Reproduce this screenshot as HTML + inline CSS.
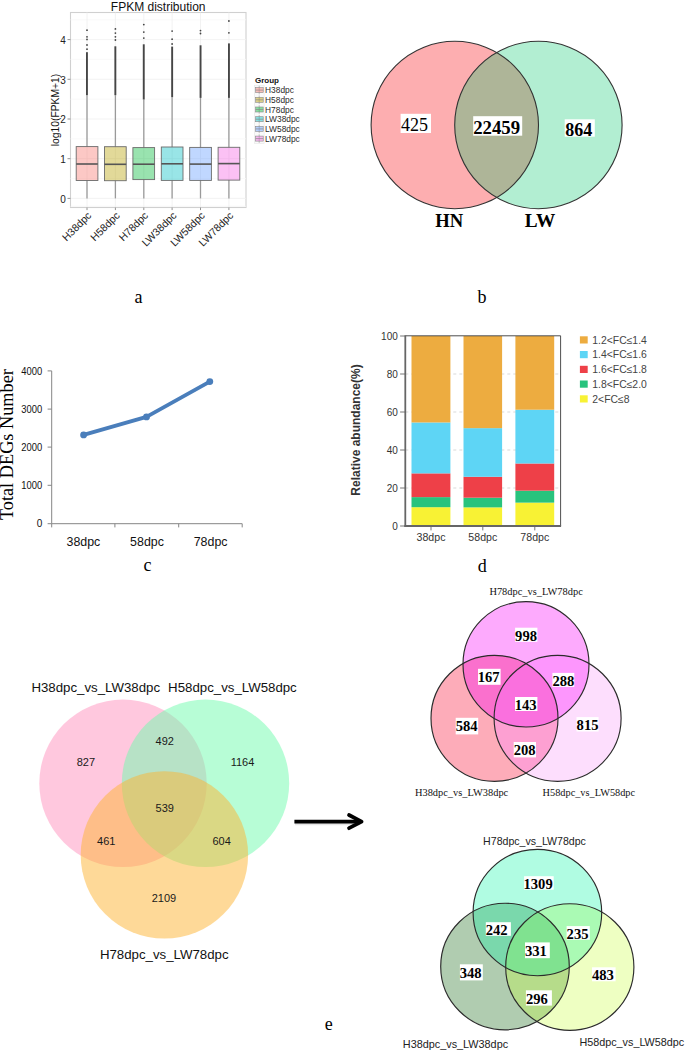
<!DOCTYPE html>
<html><head><meta charset="utf-8"><title>Figure</title>
<style>
html,body{margin:0;padding:0;background:#fff;}
body{width:685px;height:1051px;overflow:hidden;font-family:"Liberation Sans",sans-serif;}
svg{display:block;}
</style></head>
<body>
<svg width="685" height="1051" viewBox="0 0 685 1051">
<rect width="685" height="1051" fill="#fff"/>
<rect x="70.5" y="12.5" width="175.5" height="195.0" fill="#fff" stroke="#d0d0d0" stroke-width="1.1"/>
<line x1="70.5" x2="246.0" y1="198.4" y2="198.4" stroke="#f0f0f0" stroke-width="0.8"/>
<line x1="70.5" x2="246.0" y1="178.6" y2="178.6" stroke="#f7f7f7" stroke-width="0.8"/>
<line x1="70.5" x2="246.0" y1="158.7" y2="158.7" stroke="#f0f0f0" stroke-width="0.8"/>
<line x1="70.5" x2="246.0" y1="138.8" y2="138.8" stroke="#f7f7f7" stroke-width="0.8"/>
<line x1="70.5" x2="246.0" y1="119.0" y2="119.0" stroke="#f0f0f0" stroke-width="0.8"/>
<line x1="70.5" x2="246.0" y1="99.2" y2="99.2" stroke="#f7f7f7" stroke-width="0.8"/>
<line x1="70.5" x2="246.0" y1="79.3" y2="79.3" stroke="#f0f0f0" stroke-width="0.8"/>
<line x1="70.5" x2="246.0" y1="59.4" y2="59.4" stroke="#f7f7f7" stroke-width="0.8"/>
<line x1="70.5" x2="246.0" y1="39.6" y2="39.6" stroke="#f0f0f0" stroke-width="0.8"/>
<line x1="70.5" x2="246.0" y1="19.8" y2="19.8" stroke="#f7f7f7" stroke-width="0.8"/>
<line x1="70.5" x2="246.0" y1="206.3" y2="206.3" stroke="#f6f6f6" stroke-width="0.8"/>
<line x1="87.0" x2="87.0" y1="12.5" y2="207.5" stroke="#efefef" stroke-width="0.8"/>
<line x1="115.4" x2="115.4" y1="12.5" y2="207.5" stroke="#efefef" stroke-width="0.8"/>
<line x1="143.8" x2="143.8" y1="12.5" y2="207.5" stroke="#efefef" stroke-width="0.8"/>
<line x1="172.1" x2="172.1" y1="12.5" y2="207.5" stroke="#efefef" stroke-width="0.8"/>
<line x1="200.5" x2="200.5" y1="12.5" y2="207.5" stroke="#efefef" stroke-width="0.8"/>
<line x1="228.9" x2="228.9" y1="12.5" y2="207.5" stroke="#efefef" stroke-width="0.8"/>
<line x1="87.0" x2="87.0" y1="95.2" y2="146.6" stroke="#9a9a9a" stroke-width="1.3"/>
<line x1="87.0" x2="87.0" y1="180.5" y2="198.4" stroke="#9a9a9a" stroke-width="1.3"/>
<rect x="86.0" y="52.2" width="1.9" height="43.0" fill="#464646"/>
<circle cx="87.0" cy="30.2" r="0.9" fill="#444"/>
<circle cx="87.0" cy="36.8" r="0.9" fill="#444"/>
<circle cx="87.0" cy="39.4" r="0.9" fill="#444"/>
<circle cx="87.0" cy="45" r="0.9" fill="#444"/>
<circle cx="87.0" cy="49.2" r="0.9" fill="#444"/>
<rect x="76.2" y="146.6" width="21.7" height="33.9" fill="#F8766D" fill-opacity="0.4" stroke="#6b6b6b" stroke-width="0.9"/>
<line x1="76.2" x2="97.8" y1="164.0" y2="164.0" stroke="#555" stroke-width="1.6"/>
<line x1="115.4" x2="115.4" y1="95.2" y2="146.7" stroke="#9a9a9a" stroke-width="1.3"/>
<line x1="115.4" x2="115.4" y1="180.7" y2="198.4" stroke="#9a9a9a" stroke-width="1.3"/>
<rect x="114.4" y="46.3" width="1.9" height="48.9" fill="#464646"/>
<circle cx="115.4" cy="28.9" r="0.9" fill="#444"/>
<circle cx="115.4" cy="33.1" r="0.9" fill="#444"/>
<circle cx="115.4" cy="36.8" r="0.9" fill="#444"/>
<circle cx="115.4" cy="40" r="0.9" fill="#444"/>
<rect x="104.5" y="146.7" width="21.7" height="34.0" fill="#B79F00" fill-opacity="0.4" stroke="#6b6b6b" stroke-width="0.9"/>
<line x1="104.5" x2="126.2" y1="164.3" y2="164.3" stroke="#555" stroke-width="1.6"/>
<line x1="143.8" x2="143.8" y1="99.5" y2="147.6" stroke="#9a9a9a" stroke-width="1.3"/>
<line x1="143.8" x2="143.8" y1="179.6" y2="198.4" stroke="#9a9a9a" stroke-width="1.3"/>
<rect x="142.8" y="44.3" width="1.9" height="55.2" fill="#464646"/>
<circle cx="143.8" cy="24.6" r="0.9" fill="#444"/>
<circle cx="143.8" cy="32.1" r="0.9" fill="#444"/>
<circle cx="143.8" cy="38.1" r="0.9" fill="#444"/>
<rect x="132.9" y="147.6" width="21.7" height="32.0" fill="#00BA38" fill-opacity="0.4" stroke="#6b6b6b" stroke-width="0.9"/>
<line x1="132.9" x2="154.6" y1="164.2" y2="164.2" stroke="#555" stroke-width="1.6"/>
<line x1="172.1" x2="172.1" y1="97.2" y2="147.0" stroke="#9a9a9a" stroke-width="1.3"/>
<line x1="172.1" x2="172.1" y1="180.4" y2="198.4" stroke="#9a9a9a" stroke-width="1.3"/>
<rect x="171.2" y="46.6" width="1.9" height="50.6" fill="#464646"/>
<circle cx="172.1" cy="31.1" r="0.9" fill="#444"/>
<circle cx="172.1" cy="39.2" r="0.9" fill="#444"/>
<circle cx="172.1" cy="44" r="0.9" fill="#444"/>
<rect x="161.3" y="147.0" width="21.7" height="33.4" fill="#00BFC4" fill-opacity="0.4" stroke="#6b6b6b" stroke-width="0.9"/>
<line x1="161.3" x2="183.0" y1="163.8" y2="163.8" stroke="#555" stroke-width="1.6"/>
<line x1="200.5" x2="200.5" y1="97.9" y2="147.4" stroke="#9a9a9a" stroke-width="1.3"/>
<line x1="200.5" x2="200.5" y1="180.4" y2="198.4" stroke="#9a9a9a" stroke-width="1.3"/>
<rect x="199.6" y="45.3" width="1.9" height="52.6" fill="#464646"/>
<circle cx="200.5" cy="30.6" r="0.9" fill="#444"/>
<circle cx="200.5" cy="33.5" r="0.9" fill="#444"/>
<rect x="189.7" y="147.4" width="21.7" height="33.0" fill="#619CFF" fill-opacity="0.4" stroke="#6b6b6b" stroke-width="0.9"/>
<line x1="189.7" x2="211.4" y1="164.1" y2="164.1" stroke="#555" stroke-width="1.6"/>
<line x1="228.9" x2="228.9" y1="97.9" y2="147.3" stroke="#9a9a9a" stroke-width="1.3"/>
<line x1="228.9" x2="228.9" y1="180.1" y2="198.4" stroke="#9a9a9a" stroke-width="1.3"/>
<rect x="228.0" y="43.4" width="1.9" height="54.5" fill="#464646"/>
<circle cx="228.9" cy="21" r="0.9" fill="#444"/>
<circle cx="228.9" cy="32.8" r="0.9" fill="#444"/>
<rect x="218.1" y="147.3" width="21.7" height="32.8" fill="#F564E3" fill-opacity="0.4" stroke="#6b6b6b" stroke-width="0.9"/>
<line x1="218.1" x2="239.8" y1="163.6" y2="163.6" stroke="#555" stroke-width="1.6"/>
<line x1="67.5" x2="70.5" y1="198.4" y2="198.4" stroke="#777" stroke-width="0.8"/>
<text x="65.8" y="202.70000000000002" font-family='"Liberation Sans", sans-serif' font-size="10" font-weight="400" text-anchor="end" fill="#222" >0</text>
<line x1="67.5" x2="70.5" y1="158.7" y2="158.7" stroke="#777" stroke-width="0.8"/>
<text x="65.8" y="163.0" font-family='"Liberation Sans", sans-serif' font-size="10" font-weight="400" text-anchor="end" fill="#222" >1</text>
<line x1="67.5" x2="70.5" y1="119.0" y2="119.0" stroke="#777" stroke-width="0.8"/>
<text x="65.8" y="123.3" font-family='"Liberation Sans", sans-serif' font-size="10" font-weight="400" text-anchor="end" fill="#222" >2</text>
<line x1="67.5" x2="70.5" y1="79.3" y2="79.3" stroke="#777" stroke-width="0.8"/>
<text x="65.8" y="83.6" font-family='"Liberation Sans", sans-serif' font-size="10" font-weight="400" text-anchor="end" fill="#222" >3</text>
<line x1="67.5" x2="70.5" y1="39.6" y2="39.6" stroke="#777" stroke-width="0.8"/>
<text x="65.8" y="43.89999999999999" font-family='"Liberation Sans", sans-serif' font-size="10" font-weight="400" text-anchor="end" fill="#222" >4</text>
<line x1="87.0" x2="87.0" y1="207.5" y2="210.1" stroke="#777" stroke-width="0.8"/>
<line x1="115.4" x2="115.4" y1="207.5" y2="210.1" stroke="#777" stroke-width="0.8"/>
<line x1="143.8" x2="143.8" y1="207.5" y2="210.1" stroke="#777" stroke-width="0.8"/>
<line x1="172.1" x2="172.1" y1="207.5" y2="210.1" stroke="#777" stroke-width="0.8"/>
<line x1="200.5" x2="200.5" y1="207.5" y2="210.1" stroke="#777" stroke-width="0.8"/>
<line x1="228.9" x2="228.9" y1="207.5" y2="210.1" stroke="#777" stroke-width="0.8"/>
<text x="92.0" y="216.2" font-family='"Liberation Sans", sans-serif' font-size="10.5" font-weight="400" text-anchor="end" fill="#222" transform="rotate(-45 92.0 216.2)">H38dpc</text>
<text x="120.38" y="216.2" font-family='"Liberation Sans", sans-serif' font-size="10.5" font-weight="400" text-anchor="end" fill="#222" transform="rotate(-45 120.4 216.2)">H58dpc</text>
<text x="148.76" y="216.2" font-family='"Liberation Sans", sans-serif' font-size="10.5" font-weight="400" text-anchor="end" fill="#222" transform="rotate(-45 148.8 216.2)">H78dpc</text>
<text x="177.14" y="216.2" font-family='"Liberation Sans", sans-serif' font-size="10.5" font-weight="400" text-anchor="end" fill="#222" transform="rotate(-45 177.1 216.2)">LW38dpc</text>
<text x="205.51999999999998" y="216.2" font-family='"Liberation Sans", sans-serif' font-size="10.5" font-weight="400" text-anchor="end" fill="#222" transform="rotate(-45 205.5 216.2)">LW58dpc</text>
<text x="233.9" y="216.2" font-family='"Liberation Sans", sans-serif' font-size="10.5" font-weight="400" text-anchor="end" fill="#222" transform="rotate(-45 233.9 216.2)">LW78dpc</text>
<text x="158.2" y="10.5" font-family='"Liberation Sans", sans-serif' font-size="12" font-weight="400" text-anchor="middle" fill="#111" >FPKM distribution</text>
<text x="59.0" y="110.0" font-family='"Liberation Sans", sans-serif' font-size="10.8" font-weight="400" text-anchor="middle" fill="#111" transform="rotate(-90 59.0 110.0)" textLength="72.5" lengthAdjust="spacingAndGlyphs">log10(FPKM+1)</text>
<text x="255" y="83.1" font-family='"Liberation Sans", sans-serif' font-size="8" font-weight="700" text-anchor="start" fill="#111" >Group</text>
<rect x="254.3" y="85.2" width="9.8" height="58.2" fill="#fafafa" stroke="#e6e6e6" stroke-width="0.6"/>
<line x1="259.2" x2="259.2" y1="85.8" y2="94.39999999999999" stroke="#999" stroke-width="0.6"/>
<rect x="255.6" y="87.6" width="7.6" height="5.0" fill="#F8766D" fill-opacity="0.45" stroke="#8a8a8a" stroke-width="0.6"/>
<line x1="255.6" x2="263.2" y1="90.1" y2="90.1" stroke="#888" stroke-width="0.7"/>
<text x="265.1" y="93.1" font-family='"Liberation Sans", sans-serif' font-size="8.35" font-weight="400" text-anchor="start" fill="#2a2a2a" >H38dpc</text>
<line x1="259.2" x2="259.2" y1="95.5" y2="104.1" stroke="#999" stroke-width="0.6"/>
<rect x="255.6" y="97.3" width="7.6" height="5.0" fill="#B79F00" fill-opacity="0.45" stroke="#8a8a8a" stroke-width="0.6"/>
<line x1="255.6" x2="263.2" y1="99.8" y2="99.8" stroke="#888" stroke-width="0.7"/>
<text x="265.1" y="102.8" font-family='"Liberation Sans", sans-serif' font-size="8.35" font-weight="400" text-anchor="start" fill="#2a2a2a" >H58dpc</text>
<line x1="259.2" x2="259.2" y1="105.2" y2="113.8" stroke="#999" stroke-width="0.6"/>
<rect x="255.6" y="107.0" width="7.6" height="5.0" fill="#00BA38" fill-opacity="0.45" stroke="#8a8a8a" stroke-width="0.6"/>
<line x1="255.6" x2="263.2" y1="109.5" y2="109.5" stroke="#888" stroke-width="0.7"/>
<text x="265.1" y="112.5" font-family='"Liberation Sans", sans-serif' font-size="8.35" font-weight="400" text-anchor="start" fill="#2a2a2a" >H78dpc</text>
<line x1="259.2" x2="259.2" y1="114.9" y2="123.5" stroke="#999" stroke-width="0.6"/>
<rect x="255.6" y="116.7" width="7.6" height="5.0" fill="#00BFC4" fill-opacity="0.45" stroke="#8a8a8a" stroke-width="0.6"/>
<line x1="255.6" x2="263.2" y1="119.2" y2="119.2" stroke="#888" stroke-width="0.7"/>
<text x="265.1" y="122.2" font-family='"Liberation Sans", sans-serif' font-size="8.35" font-weight="400" text-anchor="start" fill="#2a2a2a" >LW38dpc</text>
<line x1="259.2" x2="259.2" y1="124.60000000000001" y2="133.20000000000002" stroke="#999" stroke-width="0.6"/>
<rect x="255.6" y="126.4" width="7.6" height="5.0" fill="#619CFF" fill-opacity="0.45" stroke="#8a8a8a" stroke-width="0.6"/>
<line x1="255.6" x2="263.2" y1="128.9" y2="128.9" stroke="#888" stroke-width="0.7"/>
<text x="265.1" y="131.9" font-family='"Liberation Sans", sans-serif' font-size="8.35" font-weight="400" text-anchor="start" fill="#2a2a2a" >LW58dpc</text>
<line x1="259.2" x2="259.2" y1="134.29999999999998" y2="142.9" stroke="#999" stroke-width="0.6"/>
<rect x="255.6" y="136.1" width="7.6" height="5.0" fill="#F564E3" fill-opacity="0.45" stroke="#8a8a8a" stroke-width="0.6"/>
<line x1="255.6" x2="263.2" y1="138.6" y2="138.6" stroke="#888" stroke-width="0.7"/>
<text x="265.1" y="141.6" font-family='"Liberation Sans", sans-serif' font-size="8.35" font-weight="400" text-anchor="start" fill="#2a2a2a" >LW78dpc</text>
<text x="138.6" y="302.7" font-family='"Liberation Serif", serif' font-size="18" font-weight="400" text-anchor="middle" fill="#000" >a</text>
<clipPath id="bc1"><circle cx="454.8" cy="125.0" r="83.7"/></clipPath>
<circle cx="454.8" cy="125.0" r="83.7" fill="#FDAEB0"/>
<circle cx="538.4" cy="125.0" r="83.7" fill="#B2EED2"/>
<circle cx="538.4" cy="125.0" r="83.7" fill="#AEB598" clip-path="url(#bc1)"/>
<circle cx="454.8" cy="125.0" r="83.7" fill="none" stroke="#333" stroke-width="1.1"/>
<circle cx="538.4" cy="125.0" r="83.7" fill="none" stroke="#333" stroke-width="1.1"/>
<rect x="400.6" y="113.8" width="30.4" height="19.2" fill="#fff"/>
<text x="401.0" y="130.9" font-family='"Liberation Serif", serif' font-size="18" font-weight="400" text-anchor="start" fill="#000" >425</text>
<rect x="473.2" y="116.2" width="49" height="19.5" fill="#fff"/>
<text x="473.2" y="133.6" font-family='"Liberation Serif", serif' font-size="18.8" font-weight="700" text-anchor="start" fill="#000" >22459</text>
<rect x="564.7" y="119.3" width="30.1" height="17.4" fill="#fff"/>
<text x="565.2" y="136.1" font-family='"Liberation Serif", serif' font-size="18" font-weight="700" text-anchor="start" fill="#000" >864</text>
<text x="449.3" y="226.7" font-family='"Liberation Serif", serif' font-size="18.6" font-weight="700" text-anchor="middle" fill="#000" >HN</text>
<text x="540.0" y="226.7" font-family='"Liberation Serif", serif' font-size="19.3" font-weight="700" text-anchor="middle" fill="#000" >LW</text>
<text x="482.0" y="302.7" font-family='"Liberation Serif", serif' font-size="18" font-weight="400" text-anchor="middle" fill="#000" >b</text>
<line x1="51.7" x2="51.7" y1="370.9" y2="523.7" stroke="#868686" stroke-width="1"/>
<line x1="51.7" x2="242.2" y1="523.7" y2="523.7" stroke="#868686" stroke-width="1"/>
<line x1="47.6" x2="51.7" y1="523.7" y2="523.7" stroke="#868686" stroke-width="1"/>
<text x="42.2" y="527.3000000000001" font-family='"Liberation Sans", sans-serif' font-size="10.0" font-weight="400" text-anchor="end" fill="#111" >0</text>
<line x1="47.6" x2="51.7" y1="485.3" y2="485.3" stroke="#868686" stroke-width="1"/>
<text x="42.2" y="488.90000000000003" font-family='"Liberation Sans", sans-serif' font-size="10.0" font-weight="400" text-anchor="end" fill="#111"  textLength="20.9" lengthAdjust="spacingAndGlyphs">1000</text>
<line x1="47.6" x2="51.7" y1="447.1" y2="447.1" stroke="#868686" stroke-width="1"/>
<text x="42.2" y="450.70000000000005" font-family='"Liberation Sans", sans-serif' font-size="10.0" font-weight="400" text-anchor="end" fill="#111"  textLength="20.9" lengthAdjust="spacingAndGlyphs">2000</text>
<line x1="47.6" x2="51.7" y1="409.1" y2="409.1" stroke="#868686" stroke-width="1"/>
<text x="42.2" y="412.70000000000005" font-family='"Liberation Sans", sans-serif' font-size="10.0" font-weight="400" text-anchor="end" fill="#111"  textLength="20.9" lengthAdjust="spacingAndGlyphs">3000</text>
<line x1="47.6" x2="51.7" y1="370.9" y2="370.9" stroke="#868686" stroke-width="1"/>
<text x="42.2" y="374.5" font-family='"Liberation Sans", sans-serif' font-size="10.0" font-weight="400" text-anchor="end" fill="#111"  textLength="20.9" lengthAdjust="spacingAndGlyphs">4000</text>
<line x1="51.7" x2="51.7" y1="523.7" y2="527.4" stroke="#868686" stroke-width="1"/>
<line x1="114.9" x2="114.9" y1="523.7" y2="527.4" stroke="#868686" stroke-width="1"/>
<line x1="178.7" x2="178.7" y1="523.7" y2="527.4" stroke="#868686" stroke-width="1"/>
<line x1="242.2" x2="242.2" y1="523.7" y2="527.4" stroke="#868686" stroke-width="1"/>
<polyline points="83.6,434.9 146.5,416.9 209.8,381.6" fill="none" stroke="#4A7EBB" stroke-width="3.9" stroke-linejoin="round" stroke-linecap="round"/>
<circle cx="83.6" cy="434.9" r="3.4" fill="#4A7EBB"/>
<circle cx="146.5" cy="416.9" r="3.4" fill="#4A7EBB"/>
<circle cx="209.8" cy="381.6" r="3.4" fill="#4A7EBB"/>
<text x="83.4" y="545.7" font-family='"Liberation Sans", sans-serif' font-size="12.4" font-weight="400" text-anchor="middle" fill="#111" >38dpc</text>
<text x="147.0" y="545.7" font-family='"Liberation Sans", sans-serif' font-size="12.4" font-weight="400" text-anchor="middle" fill="#111" >58dpc</text>
<text x="210.6" y="545.7" font-family='"Liberation Sans", sans-serif' font-size="12.4" font-weight="400" text-anchor="middle" fill="#111" >78dpc</text>
<text x="13.4" y="444.6" font-family='"Liberation Serif", serif' font-size="18.3" font-weight="400" text-anchor="middle" fill="#000" transform="rotate(-90 13.4 444.6)">Total DEGs Number</text>
<text x="147.6" y="571.4" font-family='"Liberation Serif", serif' font-size="18" font-weight="400" text-anchor="middle" fill="#000" >c</text>
<line x1="405.3" x2="560.6" y1="488.0" y2="488.0" stroke="#cfcfcf" stroke-width="0.8" stroke-dasharray="3,3"/>
<line x1="405.3" x2="560.6" y1="450.0" y2="450.0" stroke="#cfcfcf" stroke-width="0.8" stroke-dasharray="3,3"/>
<line x1="405.3" x2="560.6" y1="412.0" y2="412.0" stroke="#cfcfcf" stroke-width="0.8" stroke-dasharray="3,3"/>
<line x1="405.3" x2="560.6" y1="374.0" y2="374.0" stroke="#cfcfcf" stroke-width="0.8" stroke-dasharray="3,3"/>
<rect x="411.5" y="507.19" width="38.9" height="18.81" fill="#F8F234"/>
<rect x="411.5" y="497.12" width="38.9" height="10.07" fill="#28C37D"/>
<rect x="411.5" y="473.37" width="38.9" height="23.75" fill="#EE4048"/>
<rect x="411.5" y="422.45" width="38.9" height="50.92" fill="#5ED5F5"/>
<rect x="411.5" y="336.00" width="38.9" height="86.45" fill="#EDAC40"/>
<rect x="463.5" y="507.38" width="38.6" height="18.62" fill="#F8F234"/>
<rect x="463.5" y="497.69" width="38.6" height="9.69" fill="#28C37D"/>
<rect x="463.5" y="476.79" width="38.6" height="20.90" fill="#EE4048"/>
<rect x="463.5" y="428.15" width="38.6" height="48.64" fill="#5ED5F5"/>
<rect x="463.5" y="336.00" width="38.6" height="92.15" fill="#EDAC40"/>
<rect x="515.4" y="502.63" width="38.8" height="23.37" fill="#F8F234"/>
<rect x="515.4" y="490.66" width="38.8" height="11.97" fill="#28C37D"/>
<rect x="515.4" y="463.49" width="38.8" height="27.17" fill="#EE4048"/>
<rect x="515.4" y="409.72" width="38.8" height="53.77" fill="#5ED5F5"/>
<rect x="515.4" y="336.00" width="38.8" height="73.72" fill="#EDAC40"/>
<line x1="405.3" x2="560.6" y1="335.8" y2="335.8" stroke="#3a3a3a" stroke-width="0.9"/>
<line x1="560.6" x2="560.6" y1="335.8" y2="526.0" stroke="#3a3a3a" stroke-width="0.9"/>
<line x1="405.3" x2="405.3" y1="335.3" y2="527.0" stroke="#666" stroke-width="1.8"/>
<line x1="404.40000000000003" x2="561.1" y1="526.0" y2="526.0" stroke="#666" stroke-width="1.8"/>
<line x1="400.1" x2="405.3" y1="526.0" y2="526.0" stroke="#666" stroke-width="0.9"/>
<text x="397.8" y="529.6" font-family='"Liberation Sans", sans-serif' font-size="10" font-weight="400" text-anchor="end" fill="#333" >0</text>
<line x1="400.1" x2="405.3" y1="488.0" y2="488.0" stroke="#666" stroke-width="0.9"/>
<text x="397.8" y="491.6" font-family='"Liberation Sans", sans-serif' font-size="10" font-weight="400" text-anchor="end" fill="#333" >20</text>
<line x1="400.1" x2="405.3" y1="450.0" y2="450.0" stroke="#666" stroke-width="0.9"/>
<text x="397.8" y="453.6" font-family='"Liberation Sans", sans-serif' font-size="10" font-weight="400" text-anchor="end" fill="#333" >40</text>
<line x1="400.1" x2="405.3" y1="412.0" y2="412.0" stroke="#666" stroke-width="0.9"/>
<text x="397.8" y="415.6" font-family='"Liberation Sans", sans-serif' font-size="10" font-weight="400" text-anchor="end" fill="#333" >60</text>
<line x1="400.1" x2="405.3" y1="374.0" y2="374.0" stroke="#666" stroke-width="0.9"/>
<text x="397.8" y="377.6" font-family='"Liberation Sans", sans-serif' font-size="10" font-weight="400" text-anchor="end" fill="#333" >80</text>
<line x1="400.1" x2="405.3" y1="336.0" y2="336.0" stroke="#666" stroke-width="0.9"/>
<text x="397.8" y="339.6" font-family='"Liberation Sans", sans-serif' font-size="10" font-weight="400" text-anchor="end" fill="#333" >100</text>
<line x1="431.0" x2="431.0" y1="526.0" y2="530.4" stroke="#666" stroke-width="0.9"/>
<text x="431.0" y="540.9" font-family='"Liberation Sans", sans-serif' font-size="10.6" font-weight="400" text-anchor="middle" fill="#333" >38dpc</text>
<line x1="482.8" x2="482.8" y1="526.0" y2="530.4" stroke="#666" stroke-width="0.9"/>
<text x="482.8" y="540.9" font-family='"Liberation Sans", sans-serif' font-size="10.6" font-weight="400" text-anchor="middle" fill="#333" >58dpc</text>
<line x1="534.8" x2="534.8" y1="526.0" y2="530.4" stroke="#666" stroke-width="0.9"/>
<text x="534.8" y="540.9" font-family='"Liberation Sans", sans-serif' font-size="10.6" font-weight="400" text-anchor="middle" fill="#333" >78dpc</text>
<text x="360.3" y="430.0" font-family='"Liberation Sans", sans-serif' font-size="12.0" font-weight="700" text-anchor="middle" fill="#333" transform="rotate(-90 360.3 430.0)">Relative abundance(%)</text>
<rect x="579.9" y="336.3" width="7.8" height="7.2" fill="#EDAC40"/>
<text x="592.3" y="343.59999999999997" font-family='"Liberation Sans", sans-serif' font-size="10.4" font-weight="400" text-anchor="start" fill="#444" >1.2&lt;FC≤1.4</text>
<rect x="579.9" y="351.0" width="7.8" height="7.2" fill="#5ED5F5"/>
<text x="592.3" y="358.34999999999997" font-family='"Liberation Sans", sans-serif' font-size="10.4" font-weight="400" text-anchor="start" fill="#444" >1.4&lt;FC≤1.6</text>
<rect x="579.9" y="365.8" width="7.8" height="7.2" fill="#EE4048"/>
<text x="592.3" y="373.09999999999997" font-family='"Liberation Sans", sans-serif' font-size="10.4" font-weight="400" text-anchor="start" fill="#444" >1.6&lt;FC≤1.8</text>
<rect x="579.9" y="380.5" width="7.8" height="7.2" fill="#28C37D"/>
<text x="592.3" y="387.84999999999997" font-family='"Liberation Sans", sans-serif' font-size="10.4" font-weight="400" text-anchor="start" fill="#444" >1.8&lt;FC≤2.0</text>
<rect x="579.9" y="395.3" width="7.8" height="7.2" fill="#F8F234"/>
<text x="592.3" y="402.59999999999997" font-family='"Liberation Sans", sans-serif' font-size="10.4" font-weight="400" text-anchor="start" fill="#444" >2&lt;FC≤8</text>
<text x="482.3" y="571.9" font-family='"Liberation Serif", serif' font-size="18" font-weight="400" text-anchor="middle" fill="#000" >d</text>
<circle cx="123.0" cy="783.3" r="83.7" fill="#FF91BD" fill-opacity="0.5"/>
<circle cx="205.5" cy="783.3" r="83.7" fill="#6FFBAD" fill-opacity="0.5"/>
<circle cx="164.4" cy="854.9" r="83.7" fill="#FDB331" fill-opacity="0.5"/>
<text x="31.4" y="692.1" font-family='"Liberation Sans", sans-serif' font-size="13.25" font-weight="400" text-anchor="start" fill="#111" >H38dpc_vs_LW38dpc</text>
<text x="168.1" y="692.1" font-family='"Liberation Sans", sans-serif' font-size="13.25" font-weight="400" text-anchor="start" fill="#111" >H58dpc_vs_LW58dpc</text>
<text x="99.9" y="958.6" font-family='"Liberation Sans", sans-serif' font-size="13.25" font-weight="400" text-anchor="start" fill="#111" >H78dpc_vs_LW78dpc</text>
<text x="85.9" y="765.6" font-family='"Liberation Sans", sans-serif' font-size="11" font-weight="400" text-anchor="middle" fill="#1a1a1a" >827</text>
<text x="164.7" y="745.0" font-family='"Liberation Sans", sans-serif' font-size="11" font-weight="400" text-anchor="middle" fill="#1a1a1a" >492</text>
<text x="242.5" y="765.9" font-family='"Liberation Sans", sans-serif' font-size="11" font-weight="400" text-anchor="middle" fill="#1a1a1a" >1164</text>
<text x="164.7" y="811.7" font-family='"Liberation Sans", sans-serif' font-size="11" font-weight="400" text-anchor="middle" fill="#1a1a1a" >539</text>
<text x="106.3" y="844.7" font-family='"Liberation Sans", sans-serif' font-size="11" font-weight="400" text-anchor="middle" fill="#1a1a1a" >461</text>
<text x="221.6" y="844.7" font-family='"Liberation Sans", sans-serif' font-size="11" font-weight="400" text-anchor="middle" fill="#1a1a1a" >604</text>
<text x="164.0" y="901.6" font-family='"Liberation Sans", sans-serif' font-size="11" font-weight="400" text-anchor="middle" fill="#1a1a1a" >2109</text>
<line x1="295" y1="823.2" x2="360" y2="823.2" stroke="#000" stroke-opacity="0.10" stroke-width="4"/>
<line x1="294.4" y1="821.6" x2="360" y2="821.6" stroke="#000" stroke-width="3.9" stroke-linecap="butt"/>
<polyline points="349.0,815.0 361.6,821.6 349.0,828.2" fill="none" stroke="#000" stroke-width="3.7" stroke-linecap="round" stroke-linejoin="round"/>
<text x="328.8" y="1030.4" font-family='"Liberation Serif", serif' font-size="18" font-weight="400" text-anchor="middle" fill="#000" >e</text>
<clipPath id="mA"><ellipse cx="494.5" cy="718.3" rx="63.5" ry="63.0" /></clipPath>
<clipPath id="mB"><ellipse cx="526.0" cy="664.3" rx="63.0" ry="62.7" /></clipPath>
<clipPath id="mC"><ellipse cx="557.6" cy="718.3" rx="63.5" ry="63.0" /></clipPath>
<ellipse cx="494.5" cy="718.3" rx="63.5" ry="63.0" fill="#FDACB9"/>
<ellipse cx="526.0" cy="664.3" rx="63.0" ry="62.7" fill="#FDAAFD"/>
<ellipse cx="557.6" cy="718.3" rx="63.5" ry="63.0" fill="#FDDEFD"/>
<g clip-path="url(#mA)"><ellipse cx="526.0" cy="664.3" rx="63.0" ry="62.7" fill="#FA70CD"/></g>
<g clip-path="url(#mA)"><ellipse cx="557.6" cy="718.3" rx="63.5" ry="63.0" fill="#FDA0D2"/></g>
<g clip-path="url(#mB)"><ellipse cx="557.6" cy="718.3" rx="63.5" ry="63.0" fill="#FD96FD"/></g>
<g clip-path="url(#mA)"><g clip-path="url(#mB)"><ellipse cx="557.6" cy="718.3" rx="63.5" ry="63.0" fill="#FA70DE"/></g></g>
<ellipse cx="494.5" cy="718.3" rx="63.5" ry="63.0" fill="none" stroke="#2b2b2b" stroke-width="1.15"/>
<ellipse cx="526.0" cy="664.3" rx="63.0" ry="62.7" fill="none" stroke="#2b2b2b" stroke-width="1.15"/>
<ellipse cx="557.6" cy="718.3" rx="63.5" ry="63.0" fill="none" stroke="#2b2b2b" stroke-width="1.15"/>
<rect x="515.1" y="627.7" width="22.3" height="14.1" fill="#fff"/>
<text x="515.1" y="640.8" font-family='"Liberation Serif", serif' font-size="14.6" font-weight="700" text-anchor="start" fill="#000" >998</text>
<rect x="478.0" y="668.8" width="22.6" height="16.0" fill="#fff"/>
<text x="477.7" y="681.9" font-family='"Liberation Serif", serif' font-size="14.6" font-weight="700" text-anchor="start" fill="#000" >167</text>
<rect x="552.4" y="672.9" width="21.9" height="14.0" fill="#fff"/>
<text x="552.5" y="686.0" font-family='"Liberation Serif", serif' font-size="14.6" font-weight="700" text-anchor="start" fill="#000" >288</text>
<rect x="515.0" y="697.0" width="22.4" height="14.0" fill="#fff"/>
<text x="514.7" y="710.0" font-family='"Liberation Serif", serif' font-size="14.6" font-weight="700" text-anchor="start" fill="#000" >143</text>
<rect x="455.7" y="717.8" width="22.5" height="16.6" fill="#fff"/>
<text x="455.7" y="730.9" font-family='"Liberation Serif", serif' font-size="14.6" font-weight="700" text-anchor="start" fill="#000" >584</text>
<rect x="576.5" y="717.1" width="22.1" height="14.4" fill="#fff"/>
<text x="576.6" y="730.2" font-family='"Liberation Serif", serif' font-size="14.6" font-weight="700" text-anchor="start" fill="#000" >815</text>
<rect x="513.7" y="742.0" width="22.3" height="15.4" fill="#fff"/>
<text x="513.7" y="754.9" font-family='"Liberation Serif", serif' font-size="14.6" font-weight="700" text-anchor="start" fill="#000" >208</text>
<text x="489.4" y="595.4" font-family='"Liberation Serif", serif' font-size="11.3" font-weight="400" text-anchor="start" fill="#111"  textLength="93.4" lengthAdjust="spacingAndGlyphs">H78dpc_vs_LW78dpc</text>
<text x="415.0" y="795.7" font-family='"Liberation Serif", serif' font-size="11.3" font-weight="400" text-anchor="start" fill="#111"  textLength="93.2" lengthAdjust="spacingAndGlyphs">H38dpc_vs_LW38dpc</text>
<text x="542.6" y="795.6" font-family='"Liberation Serif", serif' font-size="11.3" font-weight="400" text-anchor="start" fill="#111"  textLength="92.5" lengthAdjust="spacingAndGlyphs">H58dpc_vs_LW58dpc</text>
<clipPath id="gA"><ellipse cx="505.0" cy="966.5" rx="64.3" ry="63.3" /></clipPath>
<clipPath id="gB"><ellipse cx="537.4" cy="912.5" rx="64.3" ry="63.2" /></clipPath>
<clipPath id="gC"><ellipse cx="569.8" cy="967.0" rx="64.1" ry="63.3" /></clipPath>
<ellipse cx="505.0" cy="966.5" rx="64.3" ry="63.3" fill="#B0CCB0"/>
<ellipse cx="537.4" cy="912.5" rx="64.3" ry="63.2" fill="#B0FCE2"/>
<ellipse cx="569.8" cy="967.0" rx="64.1" ry="63.3" fill="#EEFFC2"/>
<g clip-path="url(#gA)"><ellipse cx="537.4" cy="912.5" rx="64.3" ry="63.2" fill="#7AD8AC"/></g>
<g clip-path="url(#gA)"><ellipse cx="569.8" cy="967.0" rx="64.1" ry="63.3" fill="#B6DC8A"/></g>
<g clip-path="url(#gB)"><ellipse cx="569.8" cy="967.0" rx="64.1" ry="63.3" fill="#AAFAB4"/></g>
<g clip-path="url(#gA)"><g clip-path="url(#gB)"><ellipse cx="569.8" cy="967.0" rx="64.1" ry="63.3" fill="#80E290"/></g></g>
<ellipse cx="505.0" cy="966.5" rx="64.3" ry="63.3" fill="none" stroke="#2b2b2b" stroke-width="1.15"/>
<ellipse cx="537.4" cy="912.5" rx="64.3" ry="63.2" fill="none" stroke="#2b2b2b" stroke-width="1.15"/>
<ellipse cx="569.8" cy="967.0" rx="64.1" ry="63.3" fill="none" stroke="#2b2b2b" stroke-width="1.15"/>
<rect x="524.1" y="876.2" width="29.6" height="13.5" fill="#fff"/>
<text x="523.5" y="889.1" font-family='"Liberation Serif", serif' font-size="14.6" font-weight="700" text-anchor="start" fill="#000" >1309</text>
<rect x="485.8" y="922.2" width="25.1" height="13.6" fill="#fff"/>
<text x="485.7" y="935.4" font-family='"Liberation Serif", serif' font-size="14.6" font-weight="700" text-anchor="start" fill="#000" >242</text>
<rect x="566.6" y="926.1" width="23.2" height="13.6" fill="#fff"/>
<text x="566.6" y="938.8" font-family='"Liberation Serif", serif' font-size="14.6" font-weight="700" text-anchor="start" fill="#000" >235</text>
<rect x="525.0" y="942.4" width="24.8" height="15.8" fill="#fff"/>
<text x="524.9" y="955.9" font-family='"Liberation Serif", serif' font-size="14.6" font-weight="700" text-anchor="start" fill="#000" >331</text>
<rect x="459.9" y="964.3" width="22.9" height="16.1" fill="#fff"/>
<text x="459.7" y="977.9" font-family='"Liberation Serif", serif' font-size="14.6" font-weight="700" text-anchor="start" fill="#000" >348</text>
<rect x="592.0" y="967.3" width="23.6" height="14.0" fill="#fff"/>
<text x="592.0" y="980.4" font-family='"Liberation Serif", serif' font-size="14.6" font-weight="700" text-anchor="start" fill="#000" >483</text>
<rect x="525.9" y="990.3" width="26.0" height="15.3" fill="#fff"/>
<text x="525.9" y="1003.8" font-family='"Liberation Serif", serif' font-size="14.6" font-weight="700" text-anchor="start" fill="#000" >296</text>
<text x="483.1" y="844.9" font-family='"Liberation Sans", sans-serif' font-size="11.2" font-weight="400" text-anchor="start" fill="#222"  textLength="102.8" lengthAdjust="spacingAndGlyphs">H78dpc_vs_LW78dpc</text>
<text x="402.8" y="1047.6" font-family='"Liberation Sans", sans-serif' font-size="11.2" font-weight="400" text-anchor="start" fill="#222"  textLength="105.3" lengthAdjust="spacingAndGlyphs">H38dpc_vs_LW38dpc</text>
<text x="579.4" y="1046.3" font-family='"Liberation Sans", sans-serif' font-size="11.2" font-weight="400" text-anchor="start" fill="#222"  textLength="104.8" lengthAdjust="spacingAndGlyphs">H58dpc_vs_LW58dpc</text>
</svg>
</body></html>
